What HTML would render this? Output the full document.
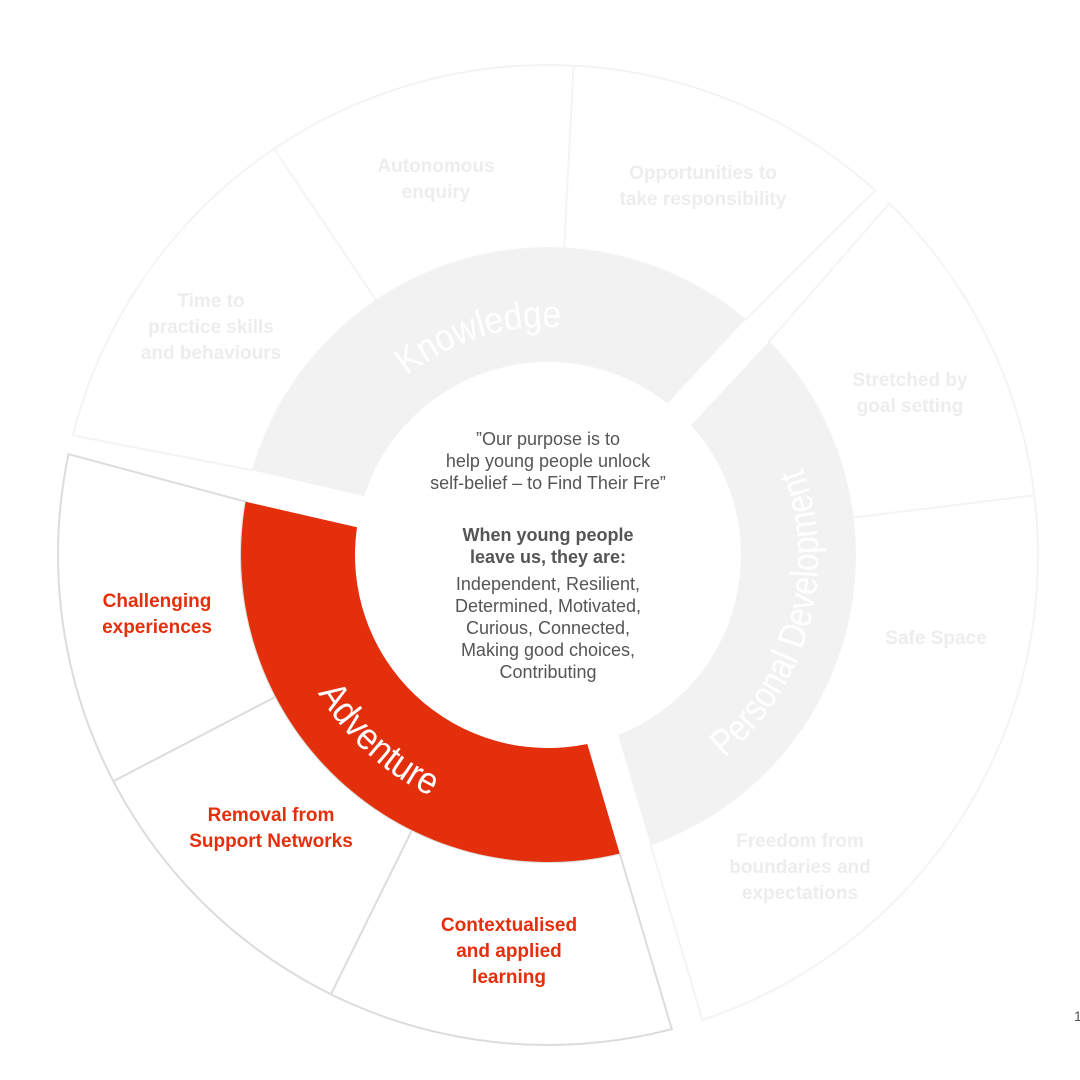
<!DOCTYPE html>
<html><head><meta charset="utf-8"><style>
html,body{margin:0;padding:0;background:#fff;}
svg{display:block;}
</style></head><body>
<svg width="1080" height="1080" viewBox="0 0 1080 1080" xmlns="http://www.w3.org/2000/svg">
<rect width="1080" height="1080" fill="#fff"/>
<path d="M 745.3 319.8 L 875.2 190.3 A490 490 0 0 0 72.8 435.4 L 252.9 470.4 A307 307 0 0 1 745.3 319.8 Z" fill="#fff" stroke="#f4f4f4" stroke-width="2"/>
<line x1="376.3" y1="300.5" x2="274" y2="148.8" stroke="#f4f4f4" stroke-width="2"/>
<line x1="564.1" y1="248.4" x2="573.6" y2="65.7" stroke="#f4f4f4" stroke-width="2"/>
<path d="M 768.8 341.7 L 889.3 203.4 A490 490 0 0 1 702.4 1020 L 650.5 844.4 A307 307 0 0 0 768.8 341.7 Z" fill="#fff" stroke="#f4f4f4" stroke-width="2"/>
<line x1="852.7" y1="517.6" x2="1034.3" y2="495.3" stroke="#f4f4f4" stroke-width="2"/>
<path d="M 619.7 853.5 L 671.8 1029.1 A490 490 0 0 1 68.5 454.2 L 245.7 501.7 A307 307 0 0 0 619.7 853.5 Z" fill="#fff" stroke="#dcdcdc" stroke-width="2"/>
<line x1="275.7" y1="696.7" x2="113.4" y2="781.2" stroke="#dcdcdc" stroke-width="2"/>
<line x1="412" y1="830.2" x2="330.9" y2="994.3" stroke="#dcdcdc" stroke-width="2"/>
<path d="M 252.9 470.4 A307 307 0 0 1 745.3 319.8 L 667.5 403.4 A193 193 0 0 0 364.2 496.1 Z" fill="#f2f2f2"/>
<path d="M 768.8 341.7 A307 307 0 0 1 650.5 844.4 L 618 734.9 A193 193 0 0 0 690.9 425.3 Z" fill="#f2f2f2"/>
<path d="M 619.7 853.5 A307 307 0 0 1 245.7 501.7 L 357 527.3 A193 193 0 0 0 587.3 744 Z" fill="#e32f0c"/>
<defs>
<path id="kp" d="M 386.8 393.8 A228 228 0 0 1 587.6 330.5"/>
<path id="pp" d="M 682 787.1 A262 262 0 0 0 780.1 421"/>
<path id="ap" d="M 289.1 624.4 A266 266 0 0 0 501.5 818.9"/>
</defs>
<g font-family="'Liberation Sans',sans-serif" font-size="38" fill="#fff" text-anchor="middle">
<text><textPath href="#kp" startOffset="50%" textLength="165" lengthAdjust="spacingAndGlyphs">Knowledge</textPath></text>
<text><textPath href="#pp" startOffset="50%" textLength="320" lengthAdjust="spacingAndGlyphs">Personal Development</textPath></text>
<text><textPath href="#ap" startOffset="50%" textLength="155" lengthAdjust="spacingAndGlyphs">Adventure</textPath></text>
</g>
<g font-family="'Liberation Sans',sans-serif" font-size="19" font-weight="bold" fill="#ededed" text-anchor="middle">
<text x="436" y="172">Autonomous</text><text x="436" y="198">enquiry</text>
<text x="703" y="179">Opportunities to</text><text x="703" y="205">take responsibility</text>
<text x="211" y="307">Time to</text><text x="211" y="333">practice skills</text><text x="211" y="359">and behaviours</text>
<text x="910" y="386">Stretched by</text><text x="910" y="412">goal setting</text>
<text x="936" y="644">Safe Space</text>
<text x="800" y="847">Freedom from</text><text x="800" y="873">boundaries and</text><text x="800" y="899">expectations</text>
</g>
<g font-family="'Liberation Sans',sans-serif" font-size="19" font-weight="bold" fill="#e32f0c" text-anchor="middle">
<text x="157" y="607">Challenging</text><text x="157" y="633">experiences</text>
<text x="271" y="821">Removal from</text><text x="271" y="847">Support Networks</text>
<text x="509" y="931">Contextualised</text><text x="509" y="957">and applied</text><text x="509" y="983">learning</text>
</g>
<g font-family="'Liberation Sans',sans-serif" font-size="18" fill="#555" text-anchor="middle">
<text x="548" y="445">”Our purpose is to</text>
<text x="548" y="467">help young people unlock</text>
<text x="548" y="489">self-belief – to Find Their Fre”</text>
<text x="548" y="541" font-weight="bold">When young people</text>
<text x="548" y="563" font-weight="bold">leave us, they are:</text>
<text x="548" y="590">Independent, Resilient,</text>
<text x="548" y="612">Determined, Motivated,</text>
<text x="548" y="634">Curious, Connected,</text>
<text x="548" y="656">Making good choices,</text>
<text x="548" y="678">Contributing</text>
</g>
<text x="1074" y="1021" font-family="'Liberation Sans',sans-serif" font-size="14" fill="#555">1</text>
</svg>
</body></html>
